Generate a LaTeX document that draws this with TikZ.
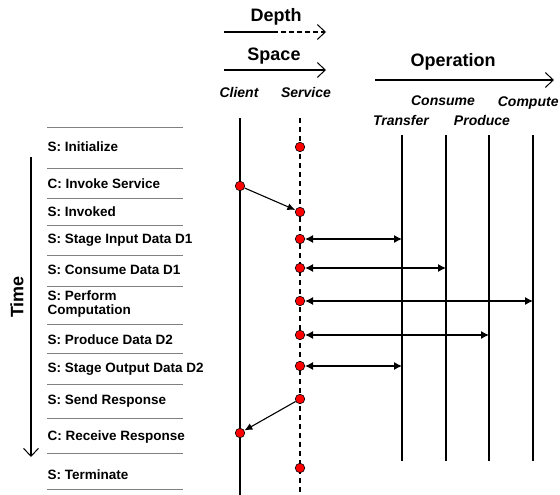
\documentclass[tikz,border=0pt]{standalone}
\usepackage{fontspec}
\setmainfont{Liberation Sans}
\usetikzlibrary{arrows.meta}

\begin{document}
\begin{tikzpicture}[x=1pt,y=-1pt,line width=1.1pt,
    evt/.style={circle,draw,line width=0.6pt,fill=red,inner sep=0pt,minimum size=9.5pt},
    row/.style={anchor=west,align=left,inner sep=0pt,font=\bfseries\fontsize{13.5}{13.5}\selectfont},
    sep/.style={gray,line width=1pt},
    head/.style={font=\bfseries\fontsize{18}{20}\selectfont},
    lane/.style={font=\bfseries\itshape\fontsize{14}{16}\selectfont},
    barb/.style={-{Straight Barb[length=8pt,width=15pt,line width=1pt]}},
    msg/.style={-{Latex[length=8pt,width=7pt]}},
    xfer/.style={{Latex[length=8pt,width=8pt]}-{Latex[length=8pt,width=8pt]}}]
  \useasboundingbox (0,0) rectangle (560,495);

  % axes on top
  \node[head] (depth) at (276,17) {Depth};
  \coordinate (d0) at (224,32); \coordinate (d1) at (273,32); \coordinate (d2) at (326,32);
  \draw (d0) -- (d1);
  \draw[barb,dash pattern=on 5pt off 3pt] (d1) -- (d2);
  \node[head] (space) at (274,56) {Space};
  \coordinate (s0) at (224,70); \coordinate (s1) at (326,70);
  \draw[barb] (s0) -- (s1);
  \node[head] (operation) at (453,62) {Operation};
  \coordinate (o0) at (375,80); \coordinate (o1) at (554,80);
  \draw[barb] (o0) -- (o1);

  % lanes
  \node[lane] (client) at (239,92) {Client};
  \node[lane] (service) at (306,92) {Service};
  \draw (240,118) -- (240,495);
  \draw[dash pattern=on 5pt off 4pt] (300,118) -- (300,495);
  \node[lane] (consume) at (443,101) {Consume};
  \node[lane] (transfer) at (401,120) {Transfer};
  \node[lane] (produce) at (482,120) {Produce};
  \node[lane,anchor=west] (compute) at (494,103) {Compute};
  \foreach \n/\x in {tr/402,co/446,pr/489,cp/533} {
    \coordinate (\n) at (\x,135);
    \draw (\n) -- (\x,461);
  }

  % time axis
  \coordinate (t0) at (31,157); \coordinate (t1) at (31,457);
  \draw[barb] (t0) -- (t1);
  \node[head,rotate=90] (time) at (17,297) {Time};

  % steps
  \foreach \y in {127,168,198,225,255,286,324,353,384,418,453,489}
    \draw[sep] (47,\y) -- (183,\y);
  \foreach \y/\txt [count=\i] in {147/{S: Initialize},184/{C: Invoke Service},212/{S: Invoked},
      240/{S: Stage Input Data D1},270/{S: Consume Data D1},304/{S: Perform\\Computation},
      340/{S: Produce Data D2},369/{S: Stage Output Data D2},401/{S: Send Response},
      437/{C: Receive Response},475/{S: Terminate}}
    \node[row] (r\i) at (47,\y) {\txt};

  % events
  \node[evt] (init) at (300,147) {};
  \node[evt] (invoke) at (240,186) {};
  \node[evt] (invoked) at (300,212) {};
  \node[evt] (stagein) at (300,239) {};
  \node[evt] (consumed) at (300,268) {};
  \node[evt] (perform) at (300,301) {};
  \node[evt] (produced) at (300,335) {};
  \node[evt] (stageout) at (300,366) {};
  \node[evt] (send) at (300,399) {};
  \node[evt] (receive) at (240,433) {};
  \node[evt] (term) at (300,468) {};

  \draw[msg] (invoke) -- (invoked);
  \draw[msg] (send) -- (receive);
  \draw[xfer] (stagein) -- (stagein -| tr);
  \draw[xfer] (consumed) -- (consumed -| co);
  \draw[xfer] (perform) -- (perform -| cp);
  \draw[xfer] (produced) -- (produced -| pr);
  \draw[xfer] (stageout) -- (stageout -| tr);
\end{tikzpicture}
\end{document}
